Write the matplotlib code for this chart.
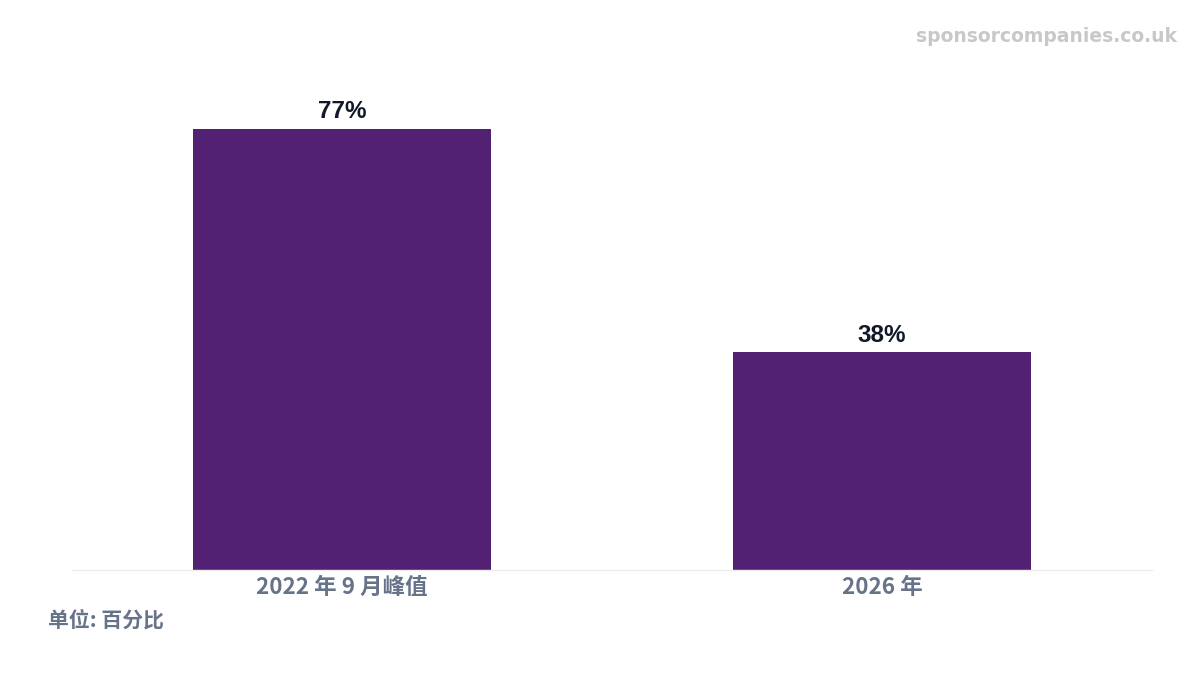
import matplotlib.pyplot as plt

# data
categories = ['2022 年 9 月峰值', '2026 年']
values = [77, 38]
value_labels = ['77%', '38%']

cjk = ['Noto Sans CJK SC', 'DejaVu Sans']
bar_color = '#522173'

fig = plt.figure(figsize=(12, 6.75), dpi=100)
ax = fig.add_axes([0.06, 0.1556, 0.9, 0.7556])

x = list(range(len(categories)))
bars = ax.bar(x, values, width=0.552, color=bar_color, zorder=2)

for rect, lab in zip(bars, value_labels):
    ax.annotate(lab, (rect.get_x() + rect.get_width() / 2, rect.get_height()),
                xytext=(0, 4), textcoords='offset points',
                ha='center', va='bottom', fontsize=17.5, fontweight='bold',
                color='#111827', family=['Liberation Sans', 'DejaVu Sans'])

ax.set_xlim(-0.5, 1.5)
ax.set_ylim(0, 89)
ax.set_xticks(x)
ax.set_xticklabels(categories, family=cjk, fontsize=16.2, fontweight='bold', color='#667389')
ax.tick_params(axis='x', length=0, pad=4)
ax.set_yticks([])
for side in ['top', 'right', 'left']:
    ax.spines[side].set_visible(False)
ax.spines['bottom'].set_color('#eeeeee')
ax.spines['bottom'].set_linewidth(1)

fig.text(48 / 1200, 1 - 620 / 675, '单位: 百分比', family=cjk, fontsize=15,
         fontweight='bold', color='#667389', ha='left', va='center')
fig.text(1177 / 1200, 1 - 36 / 675, 'sponsorcompanies.co.uk', family='DejaVu Sans',
         fontsize=13.5, fontweight='bold', color='#c8c8c8', ha='right', va='center')

fig.savefig('out.png', dpi=100)
